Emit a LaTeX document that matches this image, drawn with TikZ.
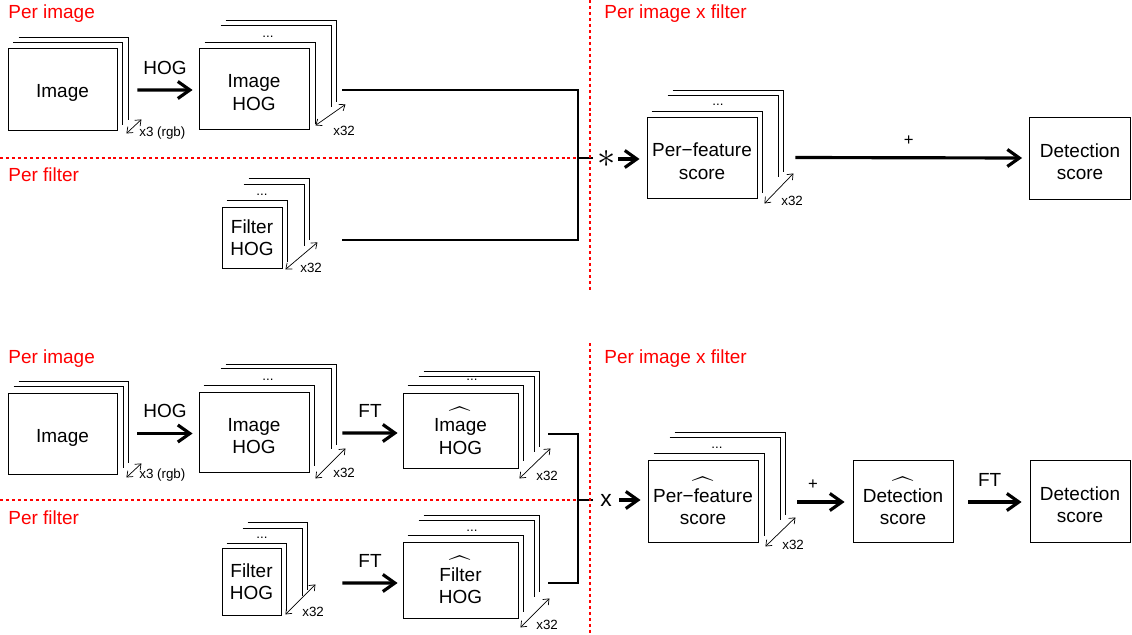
\documentclass[tikz,border=0pt]{standalone}
\usepackage{fontspec}
\setmainfont{Liberation Sans}
\usetikzlibrary{positioning,arrows.meta}
\tikzset{font=\fontsize{10.8}{12.8}\selectfont}

% one sheet behind a front box: top and right edges only
\newcommand{\sheet}[3]{\draw[layer] ([shift={(#2,-#3)}]#1.north west) -- ([shift={(#2,-#3)}]#1.north east) -- ([shift={(#2,-#3)}]#1.south east);}
\newcommand{\hatline}{\scalebox{1.2}[1.4]{$\widehat{\hbox to 11pt{\hfil}}$}\\[-9pt]}
\newcommand{\low}{\rule{0pt}{12pt}}

\begin{document}
\begin{tikzpicture}[x=0.02cm, y=-0.02cm,
    box/.style={draw, line width=0.5pt, align=center, inner sep=0pt},
    layer/.style={line width=0.5pt},
    conn/.style={line width=1.4pt},
    bigarrow/.style={line width=1.8pt, -{Straight Barb[length=2.4mm,width=3.4mm]}},
    count/.style={line width=0.4pt, {Straight Barb[length=1mm,width=1.6mm]}-{Straight Barb[length=1mm,width=1.6mm]}},
    small/.style={font=\fontsize{7.6}{9}\selectfont, inner sep=0pt},
    plus/.style={font=\fontsize{9.5}{10}\selectfont, inner sep=0pt, above=6pt},
    lbl/.style={above=4.5pt},
    region/.style={red, line width=1.3pt, dash pattern=on 1.7pt off 1.7pt},
    regionlabel/.style={text=red, anchor=base west, inner sep=0pt}]
  \useasboundingbox (0,0) rectangle (1132,635);

  % ---------- convolution ----------
  \draw[region] (0,158) -- (590,158);
  \node[regionlabel] (imgregA) at (8,19) {Per image};
  \node[regionlabel] (filtregA) at (8,181) {Per filter};
  \node[regionlabel] (pairregA) at (604,19) {Per image x filter};

  \node[box, minimum width=2.18cm, minimum height=1.64cm] (imgA) at (62.5,89) {\low Image};
  \sheet{imgA}{5.5}{5} \sheet{imgA}{11}{10}
  \draw[count] ([shift={(9,3)}]imgA.south east) -- ++(15,-14);
  \node[small, anchor=west] (rgbA) at (139,133) {x3 (rgb)};

  \node[box, minimum width=2.2cm, minimum height=1.62cm] (hogA) at (254,88.5) {\low Image\\HOG};
  \sheet{hogA}{6}{5} \sheet{hogA}{22}{22} \sheet{hogA}{27}{27}
  \node[small] (dotsA) at (268,37) {...};
  \draw[count] ([shift={(6,-4)}]hogA.south east) -- ++(30,-21);
  \node[small, anchor=west] (numA) at (333,131) {x32};
  \draw[bigarrow] ([shift={(20,1)}]imgA.east) -- node[lbl] (hoglblA) {HOG} ([shift={(-6,1.5)}]hogA.west);

  \node[box, minimum width=1.2cm, minimum height=1.22cm] (filtA) at (252,237.5) {Filter\\HOG};
  \sheet{filtA}{5}{6} \sheet{filtA}{22}{22} \sheet{filtA}{27}{28}
  \node[small] (dotsfA) at (262,195) {...};
  \draw[count] ([shift={(3,1)}]filtA.south east) -- ++(32,-27);
  \node[small, anchor=west] (numfA) at (300,268) {x32};

  \coordinate (joinA) at (578,158);
  \draw[conn] ([shift={(33,1.5)}]hogA.east) -| (joinA) |- ([shift={(60,2.5)}]filtA.east);
  \draw[conn] (joinA) -- ++(15,0);
  \node[inner sep=0pt, font=\fontsize{20}{20}\selectfont] (ast) at (607,159) {$\ast$};

  \node[box, minimum width=2.2cm, minimum height=1.62cm] (pfA) at (702,157.5) {\low Per−feature\\score};
  \sheet{pfA}{5}{5} \sheet{pfA}{21}{21.5} \sheet{pfA}{26}{26.5}
  \node[small] (dotspA) at (718,105) {...};
  \draw[count] ([shift={(7,5)}]pfA.south east) -- ++(29,-30);
  \node[small, anchor=west] (numpA) at (781,201) {x32};
  \draw[bigarrow, shorten <=1pt, shorten >=4pt] (ast.east) -- (pfA.west |- ast.east);

  \node[box, minimum width=2.02cm, minimum height=1.64cm] (detA) at (1080,158) {\low Detection\\score};
  \draw[bigarrow] ([shift={(38,0)}]pfA.east) -- node[plus] (plusA) {+} ([shift={(-7,0)}]detA.west);

  \draw[region] (590,0) -- (590,290);

  % ---------- fourier ----------
  \draw[region] (0,500) -- (590,500);
  \node[regionlabel] (imgregB) at (8,363) {Per image};
  \node[regionlabel] (filtregB) at (8,524) {Per filter};
  \node[regionlabel] (pairregB) at (604,363) {Per image x filter};

  \node[box, minimum width=2.18cm, minimum height=1.62cm] (imgB) at (62.5,433.5) {\low Image};
  \sheet{imgB}{6}{6} \sheet{imgB}{11}{11}
  \draw[count] ([shift={(9,3)}]imgB.south east) -- ++(15,-14);
  \node[small, anchor=west] (rgbB) at (139,475) {x3 (rgb)};

  \node[box, minimum width=2.2cm, minimum height=1.6cm] (hogB) at (254,432) {\low Image\\HOG};
  \sheet{hogB}{5}{6} \sheet{hogB}{22}{23} \sheet{hogB}{27}{27}
  \node[small] (dotsB) at (268,380) {...};
  \draw[count] ([shift={(6,6)}]hogB.south east) -- ++(30,-30);
  \node[small, anchor=west] (numB) at (333,473) {x32};
  \draw[bigarrow] ([shift={(20,0)}]imgB.east) -- node[lbl] (hoglblB) {HOG} ([shift={(-6,1.5)}]hogB.west);

  \node[box, minimum width=2.3cm, minimum height=1.5cm] (hatB) at (460.5,430.5) {\hatline Image\\HOG};
  \sheet{hatB}{5}{7} \sheet{hatB}{16}{16} \sheet{hatB}{21}{21}
  \node[small] (dotshB) at (472,380) {...};
  \draw[count] ([shift={(1,10)}]hatB.south east) -- ++(31,-30);
  \node[small, anchor=west] (numhB) at (536,476) {x32};
  \draw[bigarrow] ([shift={(33,1)}]hogB.east) -- node[lbl] (ftlblB) {FT} ([shift={(-5,2.5)}]hatB.west);

  \node[box, minimum width=1.18cm, minimum height=1.34cm] (filtB) at (251.5,581.5) {Filter\\HOG};
  \sheet{filtB}{5}{4} \sheet{filtB}{21}{19} \sheet{filtB}{26}{25}
  \node[small] (dotsfB) at (262,538) {...};
  \draw[count] ([shift={(4,-1)}]filtB.south east) -- ++(30,-30);
  \node[small, anchor=west] (numfB) at (302,612) {x32};

  \node[box, minimum width=2.3cm, minimum height=1.52cm] (fhatB) at (460.5,580) {\hatline Filter\\HOG};
  \sheet{fhatB}{5}{6} \sheet{fhatB}{16}{21} \sheet{fhatB}{21}{26}
  \node[small] (dotsfhB) at (472,531) {...};
  \draw[count] ([shift={(2,9)}]fhatB.south east) -- ++(29,-29);
  \node[small, anchor=west] (numfhB) at (536,625) {x32};
  \draw[bigarrow] ([shift={(61,1.5)}]filtB.east) -- node[lbl] (ftlblfB) {FT} ([shift={(-5,3)}]fhatB.west);

  \coordinate (joinB) at (578,500);
  \draw[conn] ([shift={(30,3.5)}]hatB.east) -| (joinB) |- ([shift={(30,3)}]fhatB.east);
  \draw[conn] (joinB) -- ++(15,0);
  \node[inner sep=0pt, font=\fontsize{13}{13}\selectfont] (times) at (606,500) {x};

  \node[box, minimum width=2.2cm, minimum height=1.64cm] (pfB) at (703,501) {\hatline Per−feature\\score};
  \sheet{pfB}{6}{6} \sheet{pfB}{22}{22} \sheet{pfB}{27}{27}
  \node[small] (dotspB) at (717,448) {...};
  \draw[count] ([shift={(7,4)}]pfB.south east) -- ++(30,-29);
  \node[small, anchor=west] (numpB) at (782,545) {x32};
  \draw[bigarrow, shorten <=4pt, shorten >=4pt] (times.east) -- (pfB.west |- times.east);

  \node[box, minimum width=2.0cm, minimum height=1.64cm] (dhatB) at (903,501) {\hatline Detection\\score};
  \draw[bigarrow] ([shift={(39,1)}]pfB.east) -- node[plus, pos=0.33] (plusB) {+} ([shift={(-8,1)}]dhatB.west);

  \node[box, minimum width=2.0cm, minimum height=1.64cm] (detB) at (1080,501) {\low Detection\\score};
  \draw[bigarrow] ([shift={(15,1)}]dhatB.east) -- node[lbl, pos=0.4] (ftlblB2) {FT} ([shift={(-8,1)}]detB.west);

  \draw[region] (590,343) -- (590,635);
\end{tikzpicture}
\end{document}
